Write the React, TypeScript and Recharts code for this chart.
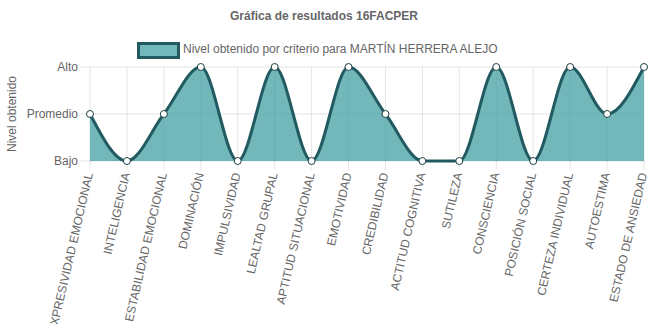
import React from 'react';
import { AreaChart, Area, XAxis, YAxis, CartesianGrid } from 'recharts';

// Criteria of the 16FACPER profile, in axis order
const criterios = [
  'EXPRESIVIDAD EMOCIONAL',
  'INTELIGENCIA',
  'ESTABILIDAD EMOCIONAL',
  'DOMINACIÓN',
  'IMPULSIVIDAD',
  'LEALTAD GRUPAL',
  'APTITUD SITUACIONAL',
  'EMOTIVIDAD',
  'CREDIBILIDAD',
  'ACTITUD COGNITIVA',
  'SUTILEZA',
  'CONSCIENCIA',
  'POSICIÓN SOCIAL',
  'CERTEZA INDIVIDUAL',
  'AUTOESTIMA',
  'ESTADO DE ANSIEDAD',
];

// 1 = Bajo, 2 = Promedio, 3 = Alto
const niveles = [2, 1, 2, 3, 1, 3, 1, 3, 2, 1, 1, 3, 1, 3, 2, 3];

const nivelTicks = [1, 2, 3];
const nivelLabels = ['Bajo', 'Promedio', 'Alto'];

const titulo = 'Gráfica de resultados 16FACPER';
const leyenda = 'Nivel obtenido por criterio para MARTÍN HERRERA ALEJO';
const ejeY = 'Nivel obtenido';

const data = criterios.map((name, i) => ({ name, value: niveles[i] }));

const FONT = '"Liberation Sans", Arial, Helvetica, sans-serif';
const TEXT = '#666';
const GRID = 'rgba(0,0,0,0.1)';
const LINE = '#215a60';
const FILL = 'rgb(60,155,158)';

const CategoryTick = (props: any) => {
  const { x, y, payload } = props;
  const ax = x;
  const ay = y + 3;
  return (
    <text
      x={ax}
      y={ay}
      transform={`rotate(-77, ${ax}, ${ay})`}
      textAnchor="end"
      dominantBaseline="middle"
      fontSize={12}
      fontFamily={FONT}
      fill={TEXT}
    >
      {payload.value}
    </text>
  );
};

export default function App() {
  return (
    <>
      <style>{`html,body{margin:0;padding:0;overflow:hidden;}`}</style>
      <div style={{ position: 'relative', width: 648, height: 324, background: '#fff', overflow: 'hidden' }}>
        <div
          style={{
            position: 'absolute',
            left: 0,
            width: 648,
            top: 8,
            textAlign: 'center',
            fontFamily: FONT,
            fontSize: 12,
            fontWeight: 'bold',
            color: TEXT,
            lineHeight: '16px',
          }}
        >
          {titulo}
        </div>
        <div
          style={{
            position: 'absolute',
            left: 137,
            top: 42,
            width: 37,
            height: 11,
            background: 'rgba(60,155,158,0.72)',
            border: `3px solid ${LINE}`,
          }}
        />
        <div
          style={{
            position: 'absolute',
            left: 183,
            top: 41,
            fontFamily: FONT,
            fontSize: 12,
            color: TEXT,
            lineHeight: '16px',
            whiteSpace: 'nowrap',
          }}
        >
          {leyenda}
        </div>
        <div
          style={{
            position: 'absolute',
            left: 12,
            top: 114,
            transform: 'translate(-50%, -50%) rotate(-90deg)',
            fontFamily: FONT,
            fontSize: 12,
            color: TEXT,
            whiteSpace: 'nowrap',
            lineHeight: '14px',
          }}
        >
          {ejeY}
        </div>
        <div style={{ position: 'absolute', left: 0, top: 0 }}>
          <AreaChart width={648} height={324} data={data} margin={{ top: 67, right: 4, bottom: 0, left: 0 }}>
            <CartesianGrid stroke={GRID} strokeWidth={1} />
            <XAxis
              dataKey="name"
              interval={0}
              height={163}
              axisLine={false}
              tickLine={{ stroke: GRID }}
              tickSize={9}
              tickMargin={0}
              tick={<CategoryTick />}
            />
            <YAxis
              type="number"
              domain={[1, 3]}
              ticks={nivelTicks}
              width={90}
              axisLine={false}
              tickLine={{ stroke: GRID }}
              tickSize={10}
              tickMargin={2}
              tickFormatter={(v: number) => nivelLabels[v - 1]}
              tick={{ fontSize: 12, fill: TEXT, fontFamily: FONT }}
            />
            <Area
              type="monotone"
              dataKey="value"
              stroke={LINE}
              strokeWidth={3}
              fill={FILL}
              fillOpacity={0.72}
              dot={{ r: 3.5, fill: '#fff', stroke: '#1d3f44', strokeWidth: 1, fillOpacity: 1 }}
              activeDot={false}
              isAnimationActive={false}
            />
          </AreaChart>
        </div>
      </div>
    </>
  );
}
